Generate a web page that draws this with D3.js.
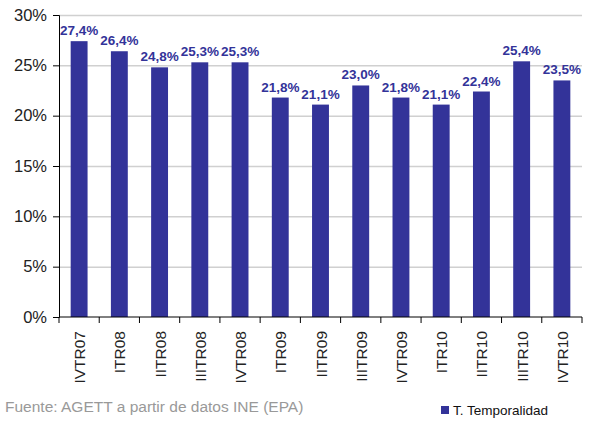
<!DOCTYPE html>
<html>
<head>
<meta charset="utf-8">
<script src="https://cdn.jsdelivr.net/npm/d3@7"></script>
<style>
  body { margin: 0; background: #fff; }
  svg { font-family: "Liberation Sans", Arial, sans-serif; }
</style>
</head>
<body>
<div id="chart"></div>
<script>
// quarters and share of temporary work (%)
const categories = ['IVTR07','ITR08','IITR08','IIITR08','IVTR08','ITR09','IITR09','IIITR09','IVTR09','ITR10','IITR10','IIITR10','IVTR10']
const values = [27.4, 26.4, 24.8, 25.3, 25.3, 21.8, 21.1, 23.0, 21.8, 21.1, 22.4, 25.4, 23.5]
const yTicks = [0, 5, 10, 15, 20, 25, 30]
const seriesName = 'T. Temporalidad'
const sourceText = 'Fuente: AGETT a partir de datos INE (EPA)'

const width = 590
const height = 421
const margin = {top: 15, right: 8, bottom: 104, left: 59}
const barColor = '#333399'

const svg = d3.select('#chart').append('svg')
	.attr('width', width)
	.attr('height', height)

const x = d3.scaleBand()
	.domain(categories)
	.range([margin.left, width - margin.right])
	.paddingInner(0.58)
	.paddingOuter(0.29)

const y = d3.scaleLinear()
	.domain([0, 30])
	.range([height - margin.bottom, margin.top])

//gridlines
svg.append('g')
	.selectAll('line')
	.data(yTicks.filter(d => d > 0))
	.join('line')
	.attr('x1', margin.left)
	.attr('x2', width - margin.right)
	.attr('y1', d => y(d) + 0.5)
	.attr('y2', d => y(d) + 0.5)
	.attr('stroke', '#d0d0d0')
	.attr('stroke-width', 1.5)

//bars
svg.append('g')
	.selectAll('rect')
	.data(values)
	.join('rect')
	.attr('x', (d, i) => x(categories[i]))
	.attr('y', d => y(d))
	.attr('width', x.bandwidth())
	.attr('height', d => y(0) - y(d))
	.attr('fill', barColor)

//value labels
svg.append('g')
	.selectAll('text')
	.data(values)
	.join('text')
	.attr('x', (d, i) => x(categories[i]) + x.bandwidth() / 2)
	.attr('y', d => y(d) - 6)
	.attr('text-anchor', 'middle')
	.attr('font-size', 13.5)
	.attr('font-weight', 'bold')
	.attr('fill', barColor)
	.text(d => d.toFixed(1).replace('.', ',') + '%')

//y axis
const yAxis = svg.append('g')
	.attr('transform', `translate(${margin.left},0)`)
	.call(d3.axisLeft(y).tickValues(yTicks).tickFormat(d => d + '%').tickSize(6).tickPadding(6))
yAxis.select('.domain').attr('stroke', '#000')
yAxis.selectAll('text').attr('font-size', 16.5).attr('fill', '#222').attr('font-family', '"Liberation Sans", Arial, sans-serif')

//x axis : ticks on category boundaries
const xg = svg.append('g')
	.attr('transform', `translate(0,${y(0)})`)
xg.append('line')
	.attr('x1', margin.left)
	.attr('x2', width - margin.right)
	.attr('stroke', '#000')
const step = x.step()
const bounds = d3.range(categories.length + 1).map(i => margin.left + i * step)
xg.selectAll('.tick')
	.data(bounds)
	.join('line')
	.attr('class', 'tick')
	.attr('x1', d => d)
	.attr('x2', d => d)
	.attr('y1', 0)
	.attr('y2', 6)
	.attr('stroke', '#000')
xg.selectAll('.lbl')
	.data(categories)
	.join('text')
	.attr('class', 'lbl')
	.attr('transform', d => `translate(${x(d) + x.bandwidth() / 2 + 6},14) rotate(-90)`)
	.attr('text-anchor', 'end')
	.attr('font-size', 15.5)
	.attr('fill', '#222')
	.text(d => d)

//source
svg.append('text')
	.attr('x', 5)
	.attr('y', 412)
	.attr('font-size', 15.5)
	.attr('fill', '#999')
	.text(sourceText)

//legend
const legend = svg.append('g')
	.attr('transform', 'translate(441,406)')
legend.append('rect')
	.attr('width', 8)
	.attr('height', 8)
	.attr('fill', barColor)
legend.append('text')
	.attr('x', 12)
	.attr('y', 8.5)
	.attr('font-size', 13.5)
	.attr('fill', '#111')
	.text(seriesName)
</script>
</body>
</html>
